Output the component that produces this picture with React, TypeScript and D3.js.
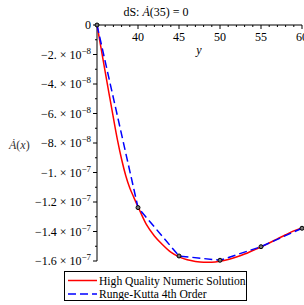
import { useEffect, useRef } from "react"
import * as d3 from "d3"

// Runge-Kutta 4th order points
const rkX = [35, 40, 45, 50, 55, 60]
const rkY = [0, -1.238e-7, -1.566e-7, -1.595e-7, -1.503e-7, -1.378e-7]

// high quality numeric solution
const hqX = [35, 35.5, 36, 36.5, 37, 37.5, 38, 38.5, 39, 39.5, 40, 41, 42, 43, 44, 45, 46, 47, 48, 49, 50, 51, 52, 53, 54, 55, 56, 57, 58, 59, 60]
const hqY = [
  0, -1.59e-8, -3.18e-8, -4.75e-8, -6.3e-8, -7.8e-8, -9.1e-8, -1.02e-7, -1.105e-7, -1.17e-7, -1.232e-7,
  -1.35e-7, -1.43e-7, -1.49e-7, -1.54e-7, -1.572e-7, -1.592e-7, -1.603e-7, -1.608e-7, -1.608e-7, -1.602e-7,
  -1.59e-7, -1.573e-7, -1.553e-7, -1.529e-7, -1.505e-7, -1.478e-7, -1.45e-7, -1.422e-7, -1.396e-7, -1.376e-7,
]

const xTicks = [40, 45, 50, 55, 60]
const yTicks = [0, -2e-8, -4e-8, -6e-8, -8e-8, -1e-7, -1.2e-7, -1.4e-7, -1.6e-7]
const yTickMantissa = ["0", "\u22122.", "\u22124.", "\u22126.", "\u22128.", "\u22121.", "\u22121.2", "\u22121.4", "\u22121.6"]
const yTickExp = ["", "\u22128", "\u22128", "\u22128", "\u22128", "\u22127", "\u22127", "\u22127", "\u22127"]

const legendLabels = ["High Quality Numeric Solution", "Runge-Kutta 4th Order"]

export default function App() {
  const svgRef = useRef<SVGSVGElement>(null)

  useEffect(() => {
    if (!svgRef.current) return
    const svg = d3.select(svgRef.current)
    svg.selectAll("*").remove()
    svg.style("font-family", '"Liberation Serif", "DejaVu Serif", serif')

    const x = d3.scaleLinear().domain([35, 60]).range([97, 302])
    const y = d3.scaleLinear().domain([-1.6e-7, 0]).range([261, 25])

    // title
    const title = svg
      .append("text")
      .attr("x", 156)
      .attr("y", 16)
      .attr("text-anchor", "middle")
      .attr("font-size", 12)
    title.append("tspan").text("dS: ")
    title.append("tspan").attr("font-style", "italic").text("\u0226")
    title.append("tspan").text("(35) = 0")

    // x axis (at y = 0)
    const xAxis = svg.append("g").attr("transform", `translate(0,${y(0)})`)
    xAxis
      .append("line")
      .attr("x1", x(35))
      .attr("x2", x(60))
      .attr("stroke", "#000")
    xAxis
      .selectAll("line.minor")
      .data(d3.range(36, 61))
      .enter()
      .append("line")
      .attr("x1", (d) => x(d))
      .attr("x2", (d) => x(d))
      .attr("y1", 0)
      .attr("y2", (d) => (d % 5 === 0 ? 4 : 2))
      .attr("stroke", "#000")
    xAxis
      .selectAll("text")
      .data(xTicks)
      .enter()
      .append("text")
      .attr("x", (d) => x(d))
      .attr("y", 16)
      .attr("text-anchor", "middle")
      .attr("font-size", 12)
      .text((d) => d)

    svg
      .append("text")
      .attr("x", 199)
      .attr("y", 54)
      .attr("text-anchor", "middle")
      .attr("font-style", "italic")
      .attr("font-size", 12)
      .text("y")

    // y axis
    const yAxis = svg.append("g").attr("transform", `translate(${x(35)},0)`)
    yAxis
      .append("line")
      .attr("y1", y(0))
      .attr("y2", y(-1.6e-7))
      .attr("stroke", "#000")
    yAxis
      .selectAll("line.minor")
      .data(d3.range(0, 17).map((i) => -i * 1e-8))
      .enter()
      .append("line")
      .attr("y1", (d) => y(d))
      .attr("y2", (d) => y(d))
      .attr("x1", (_d, i) => (i % 2 === 0 ? -4 : -2))
      .attr("x2", 0)
      .attr("stroke", "#000")
    const yLabels = yAxis
      .selectAll("text")
      .data(yTicks)
      .enter()
      .append("text")
      .attr("x", -6)
      .attr("y", (d) => y(d) + 4)
      .attr("text-anchor", "end")
      .attr("font-size", 12)
    yLabels.append("tspan").text((_d, i) => (i === 0 ? yTickMantissa[i] : `${yTickMantissa[i]} \u00d7 10`))
    yLabels
      .append("tspan")
      .attr("dy", -5)
      .attr("font-size", 9)
      .text((_d, i) => yTickExp[i])

    const yLab = svg
      .append("text")
      .attr("x", 9)
      .attr("y", 149)
      .attr("font-size", 12)
      .attr("fill", "#333")
    yLab.append("tspan").attr("font-style", "italic").text("\u0226")
    yLab.append("tspan").text("(")
    yLab.append("tspan").attr("font-style", "italic").text("x")
    yLab.append("tspan").text(")")

    // lines
    const line = d3
      .line<number>()
      .x((_d, i) => x(hqX[i]))
      .y((d) => y(d))
      .curve(d3.curveMonotoneX)
    svg
      .append("path")
      .attr("d", line(hqY))
      .attr("fill", "none")
      .attr("stroke", "#ff0000")
      .attr("stroke-width", 1.5)

    const rkLine = d3
      .line<number>()
      .x((_d, i) => x(rkX[i]))
      .y((d) => y(d))
    svg
      .append("path")
      .attr("d", rkLine(rkY))
      .attr("fill", "none")
      .attr("stroke", "#0000ff")
      .attr("stroke-width", 1.5)
      .attr("stroke-dasharray", "8,4")

    svg
      .selectAll("circle")
      .data(rkY)
      .enter()
      .append("circle")
      .attr("cx", (_d, i) => x(rkX[i]))
      .attr("cy", (d) => y(d))
      .attr("r", 2)
      .attr("fill", "#777")
      .attr("stroke", "#000")
      .attr("stroke-width", 1)

    // legend
    const lg = svg.append("g")
    lg.append("rect")
      .attr("x", 64.5)
      .attr("y", 271.5)
      .attr("width", 182)
      .attr("height", 29)
      .attr("fill", "#fff")
      .attr("stroke", "#000")
    const colors = ["#ff0000", "#0000ff"]
    legendLabels.forEach((label, i) => {
      const ly = 280.5 + i * 13.5
      lg.append("line")
        .attr("x1", 68)
        .attr("x2", 97)
        .attr("y1", ly)
        .attr("y2", ly)
        .attr("stroke", colors[i])
        .attr("stroke-width", 1.5)
        .attr("stroke-dasharray", i === 1 ? "8,4" : null)
      lg.append("text")
        .attr("x", 99)
        .attr("y", ly + 4)
        .attr("font-size", 11.6)
        .text(label)
    })
  }, [])

  return (
    <svg
      ref={svgRef}
      width={304}
      height={305}
      style={{ position: "absolute", left: 0, top: 0, background: "#fff" }}
    />
  )
}
